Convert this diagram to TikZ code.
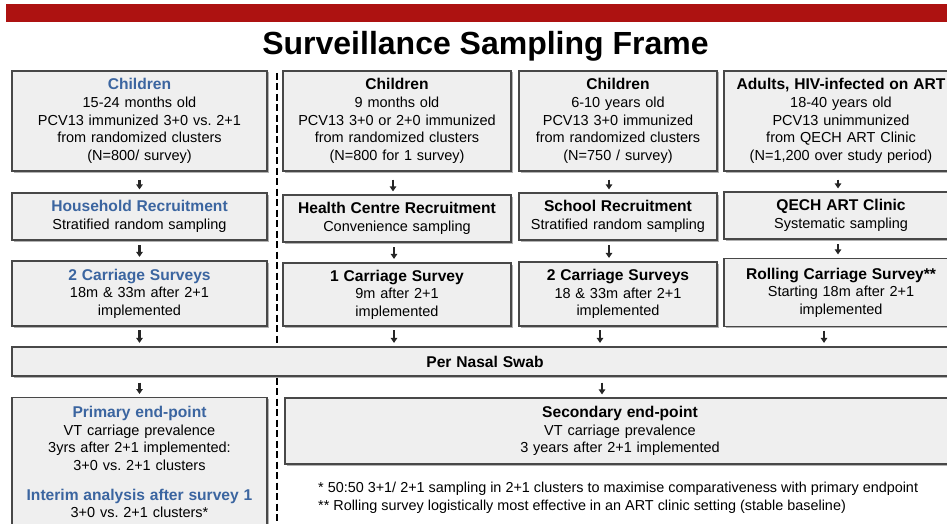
\documentclass[tikz,border=0pt]{standalone}
\usepackage{fontspec}
\setmainfont{Liberation Sans}
\usetikzlibrary{arrows.meta,shadows}
\definecolor{barred}{RGB}{173,18,17}
\definecolor{headblue}{RGB}{59,101,160}
\definecolor{boxgray}{RGB}{239,239,239}
\definecolor{linegray}{RGB}{72,72,72}
\newcommand{\hd}[1]{{\fontsize{15.6}{17.6}\selectfont\bfseries #1}}
\newcommand{\hdb}[1]{{\color{headblue}\hd{#1}}}
\frenchspacing

\begin{document}
\begin{tikzpicture}[x=1pt, y=-1pt, font=\fontsize{14.5}{17.6}\selectfont]
\tikzstyle{sqr} = [rectangle, draw=linegray, fill=boxgray, line width=1.2pt, align=center, inner xsep=3pt, inner ysep=0pt, drop shadow={shadow xshift=1.5pt, shadow yshift=-1.5pt, opacity=.3, fill=black}]
\tikzstyle{arr} = [-{Triangle[length=5pt, width=6.5pt]}, line width=2.4pt, draw=black!85, shorten <=4.5pt, shorten >=3.5pt]

\clip (0,0) rectangle (947,524);
\fill[barred] (6,4.5) rectangle (960,22.5);
\node (title) at (485.5,55) [anchor=base, font=\fontsize{32}{36}\selectfont\bfseries] {Surveillance Sampling Frame};

% divider: primary (left) vs secondary (right)
\draw[line width=2.3pt, dash pattern=on 7pt off 3.5pt] (277,73) -- (277,530);

% populations
\node (ch1) at (139.5,121) [sqr, text width=249pt, minimum height=100pt] {\hdb{Children}\\15-24 months old\\PCV13 immunized 3+0 vs. 2+1\\from randomized clusters\\(N=800/ survey)};
\node (ch2) at (397,121) [sqr, text width=222pt, minimum height=100pt] {\hd{Children}\\9 months old\\PCV13 3+0 or 2+0 immunized\\from randomized clusters\\(N=800 for 1 survey)};
\node (ch3) at (618,121) [sqr, text width=192pt, minimum height=100pt] {\hd{Children}\\6-10 years old\\PCV13 3+0 immunized\\from randomized clusters\\(N=750 / survey)};
\node (ad4) at (841,121) [sqr, text width=228pt, minimum height=100pt] {\hd{Adults, HIV-infected on ART}\\18-40 years old\\PCV13 unimmunized\\from QECH ART Clinic\\(N=1,200 over study period)};

% recruitment
\node (rec1) at (139.5,216.5) [sqr, text width=249pt, minimum height=47pt] {\hdb{Household Recruitment}\\Stratified random sampling};
\node (rec2) at (397,218.5) [sqr, text width=222pt, minimum height=47pt] {\hd{Health Centre Recruitment}\\Convenience sampling};
\node (rec3) at (618,216.5) [sqr, text width=192pt, minimum height=47pt] {\hd{School Recruitment}\\Stratified random sampling};
\node (rec4) at (841,215.5) [sqr, text width=228pt, minimum height=47pt] {\hd{QECH ART Clinic}\\Systematic sampling};

% surveys
\node (sv1) at (139.5,293.5) [sqr, text width=249pt, minimum height=65pt] {\hdb{2 Carriage Surveys}\\18m \& 33m after 2+1\\implemented};
\node (sv2) at (397,294.5) [sqr, text width=222pt, minimum height=63pt] {\hd{1 Carriage Survey}\\9m after 2+1\\implemented};
\node (sv3) at (618,294) [sqr, text width=192pt, minimum height=64pt] {\hd{2 Carriage Surveys}\\18 \& 33m after 2+1\\implemented};
\node (sv4) at (841,292.5) [sqr, text width=228pt, minimum height=68pt] {\hd{Rolling Carriage Survey**}\\Starting 18m after 2+1\\implemented};

\node (swab) at (485,361.5) [sqr, text width=940pt, minimum height=29pt] {\hd{Per Nasal Swab}};

% end-points
\node (prim) at (139.5,397) [sqr, anchor=north, text width=249pt, inner ysep=8.5pt] {\hdb{Primary end-point}\\VT carriage prevalence\\3yrs after 2+1 implemented:\\3+0 vs. 2+1 clusters\\[12.4pt]\hdb{Interim analysis after survey 1}\\3+0 vs. 2+1 clusters*};
\node (sec) at (620,431) [sqr, text width=664pt, minimum height=66pt] {\hd{Secondary end-point}\\VT carriage prevalence\\3 years after 2+1 implemented};

\node (notes) at (318,481.5) [anchor=north west, align=left, inner sep=0pt, font=\fontsize{14.4}{18}\selectfont] {*\ 50:50 3+1/ 2+1 sampling in 2+1 clusters to maximise comparativeness with primary endpoint\\** Rolling survey logistically most effective in an ART clinic setting (stable baseline)};

\draw[arr, shorten <=8pt, shorten >=3pt] (ch1) -- (rec1);
\draw[arr, shorten <=8pt, shorten >=3pt] ([xshift=-4pt]ch2.south) -- ([xshift=-4pt]rec2.north);
\draw[arr, shorten <=8pt, shorten >=3pt] ([xshift=-9pt]ch3.south) -- ([xshift=-9pt]rec3.north);
\draw[arr, shorten <=8pt, shorten >=3pt] ([xshift=-3pt]ad4.south) -- ([xshift=-3pt]rec4.north);

\draw[arr] (rec1) -- (sv1);
\draw[arr] ([xshift=-3pt]rec2.south) -- ([xshift=-3pt]sv2.north);
\draw[arr] ([xshift=-9pt]rec3.south) -- ([xshift=-9pt]sv3.north);
\draw[arr] ([xshift=-3pt]rec4.south) -- ([xshift=-3pt]sv4.north);

\draw[arr, shorten <=3.5pt, shorten >=3.5pt] (sv1) -- (sv1 |- swab.north);
\draw[arr, shorten <=3.5pt, shorten >=3.5pt] ([xshift=-3pt]sv2.south) -- ([xshift=-3pt]sv2.south |- swab.north);
\draw[arr, shorten <=3.5pt, shorten >=3.5pt] ([xshift=-18pt]sv3.south) -- ([xshift=-18pt]sv3.south |- swab.north);
\draw[arr, shorten <=3.5pt, shorten >=3.5pt] ([xshift=-17pt]sv4.south) -- ([xshift=-17pt]sv4.south |- swab.north);

\draw[arr, shorten <=6pt, shorten >=3pt] (prim.north |- swab.south) -- (prim.north);
\draw[arr, shorten <=6pt, shorten >=3pt] (swab.south -| 602,0) -- (sec.north -| 602,0);

\end{tikzpicture}
\end{document}
